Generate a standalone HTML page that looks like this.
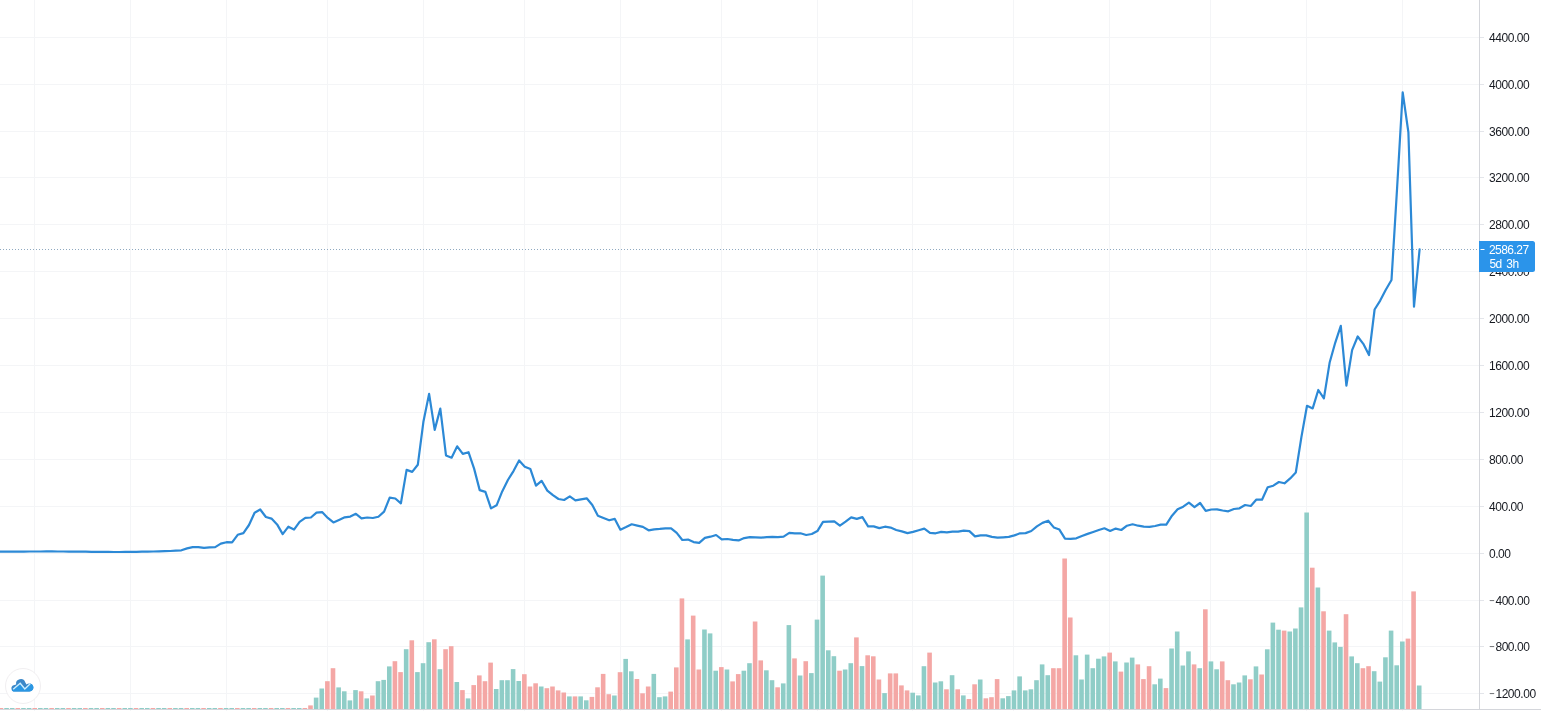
<!DOCTYPE html>
<html><head><meta charset="utf-8"><title>Chart</title>
<style>
html,body{margin:0;padding:0;background:#fff;overflow:hidden}
body{width:1541px;height:711px;position:relative;font-family:"Liberation Sans",sans-serif}
svg{position:absolute;left:0;top:0;display:block}
.ax{font-family:"Liberation Sans",sans-serif;font-size:12px;fill:#171a21;letter-spacing:-0.45px}
.pl{font-family:"Liberation Sans",sans-serif;font-size:12px;fill:#fff;letter-spacing:-0.55px}
</style></head><body>
<svg width="1541" height="711" viewBox="0 0 1541 711">
<rect width="1541" height="711" fill="#fff"/>
<g shape-rendering="crispEdges">
<line x1="0" y1="37.5" x2="1479" y2="37.5" stroke="#f4f5f7" stroke-width="1"/>
<line x1="1479" y1="37.5" x2="1484" y2="37.5" stroke="#e3e5ea" stroke-width="1"/>
<line x1="0" y1="84.5" x2="1479" y2="84.5" stroke="#f4f5f7" stroke-width="1"/>
<line x1="1479" y1="84.5" x2="1484" y2="84.5" stroke="#e3e5ea" stroke-width="1"/>
<line x1="0" y1="131.5" x2="1479" y2="131.5" stroke="#f4f5f7" stroke-width="1"/>
<line x1="1479" y1="131.5" x2="1484" y2="131.5" stroke="#e3e5ea" stroke-width="1"/>
<line x1="0" y1="177.5" x2="1479" y2="177.5" stroke="#f4f5f7" stroke-width="1"/>
<line x1="1479" y1="177.5" x2="1484" y2="177.5" stroke="#e3e5ea" stroke-width="1"/>
<line x1="0" y1="224.5" x2="1479" y2="224.5" stroke="#f4f5f7" stroke-width="1"/>
<line x1="1479" y1="224.5" x2="1484" y2="224.5" stroke="#e3e5ea" stroke-width="1"/>
<line x1="0" y1="271.5" x2="1479" y2="271.5" stroke="#f4f5f7" stroke-width="1"/>
<line x1="1479" y1="271.5" x2="1484" y2="271.5" stroke="#e3e5ea" stroke-width="1"/>
<line x1="0" y1="318.5" x2="1479" y2="318.5" stroke="#f4f5f7" stroke-width="1"/>
<line x1="1479" y1="318.5" x2="1484" y2="318.5" stroke="#e3e5ea" stroke-width="1"/>
<line x1="0" y1="365.5" x2="1479" y2="365.5" stroke="#f4f5f7" stroke-width="1"/>
<line x1="1479" y1="365.5" x2="1484" y2="365.5" stroke="#e3e5ea" stroke-width="1"/>
<line x1="0" y1="412.5" x2="1479" y2="412.5" stroke="#f4f5f7" stroke-width="1"/>
<line x1="1479" y1="412.5" x2="1484" y2="412.5" stroke="#e3e5ea" stroke-width="1"/>
<line x1="0" y1="459.5" x2="1479" y2="459.5" stroke="#f4f5f7" stroke-width="1"/>
<line x1="1479" y1="459.5" x2="1484" y2="459.5" stroke="#e3e5ea" stroke-width="1"/>
<line x1="0" y1="506.5" x2="1479" y2="506.5" stroke="#f4f5f7" stroke-width="1"/>
<line x1="1479" y1="506.5" x2="1484" y2="506.5" stroke="#e3e5ea" stroke-width="1"/>
<line x1="0" y1="553.5" x2="1479" y2="553.5" stroke="#f4f5f7" stroke-width="1"/>
<line x1="1479" y1="553.5" x2="1484" y2="553.5" stroke="#e3e5ea" stroke-width="1"/>
<line x1="0" y1="600.5" x2="1479" y2="600.5" stroke="#f4f5f7" stroke-width="1"/>
<line x1="1479" y1="600.5" x2="1484" y2="600.5" stroke="#e3e5ea" stroke-width="1"/>
<line x1="0" y1="646.5" x2="1479" y2="646.5" stroke="#f4f5f7" stroke-width="1"/>
<line x1="1479" y1="646.5" x2="1484" y2="646.5" stroke="#e3e5ea" stroke-width="1"/>
<line x1="0" y1="693.5" x2="1479" y2="693.5" stroke="#f4f5f7" stroke-width="1"/>
<line x1="1479" y1="693.5" x2="1484" y2="693.5" stroke="#e3e5ea" stroke-width="1"/>
<line x1="34.5" y1="0" x2="34.5" y2="711" stroke="#f4f5f7" stroke-width="1"/>
<line x1="130.5" y1="0" x2="130.5" y2="711" stroke="#f4f5f7" stroke-width="1"/>
<line x1="226.5" y1="0" x2="226.5" y2="711" stroke="#f4f5f7" stroke-width="1"/>
<line x1="327.5" y1="0" x2="327.5" y2="711" stroke="#f4f5f7" stroke-width="1"/>
<line x1="423.5" y1="0" x2="423.5" y2="711" stroke="#f4f5f7" stroke-width="1"/>
<line x1="524.5" y1="0" x2="524.5" y2="711" stroke="#f4f5f7" stroke-width="1"/>
<line x1="620.5" y1="0" x2="620.5" y2="711" stroke="#f4f5f7" stroke-width="1"/>
<line x1="721.5" y1="0" x2="721.5" y2="711" stroke="#f4f5f7" stroke-width="1"/>
<line x1="817.5" y1="0" x2="817.5" y2="711" stroke="#f4f5f7" stroke-width="1"/>
<line x1="912.5" y1="0" x2="912.5" y2="711" stroke="#f4f5f7" stroke-width="1"/>
<line x1="1013.5" y1="0" x2="1013.5" y2="711" stroke="#f4f5f7" stroke-width="1"/>
<line x1="1109.5" y1="0" x2="1109.5" y2="711" stroke="#f4f5f7" stroke-width="1"/>
<line x1="1210.5" y1="0" x2="1210.5" y2="711" stroke="#f4f5f7" stroke-width="1"/>
<line x1="1306.5" y1="0" x2="1306.5" y2="711" stroke="#f4f5f7" stroke-width="1"/>
<line x1="1402.5" y1="0" x2="1402.5" y2="711" stroke="#f4f5f7" stroke-width="1"/>
</g>
<g>
<rect x="-1.35" y="708" width="4.6" height="1" fill="#f4a7a5"/>
<rect x="4.28" y="708" width="4.6" height="1" fill="#8fcdc7"/>
<rect x="9.91" y="708" width="4.6" height="1" fill="#8fcdc7"/>
<rect x="15.53" y="708" width="4.6" height="1" fill="#f4a7a5"/>
<rect x="21.16" y="708" width="4.6" height="1" fill="#8fcdc7"/>
<rect x="26.79" y="708" width="4.6" height="1" fill="#8fcdc7"/>
<rect x="32.42" y="708" width="4.6" height="1" fill="#f4a7a5"/>
<rect x="38.05" y="708" width="4.6" height="1" fill="#8fcdc7"/>
<rect x="43.67" y="708" width="4.6" height="1" fill="#8fcdc7"/>
<rect x="49.30" y="708" width="4.6" height="1" fill="#f4a7a5"/>
<rect x="54.93" y="708" width="4.6" height="1" fill="#8fcdc7"/>
<rect x="60.56" y="708" width="4.6" height="1" fill="#8fcdc7"/>
<rect x="66.19" y="708" width="4.6" height="1" fill="#f4a7a5"/>
<rect x="71.81" y="708" width="4.6" height="1" fill="#8fcdc7"/>
<rect x="77.44" y="708" width="4.6" height="1" fill="#8fcdc7"/>
<rect x="83.07" y="708" width="4.6" height="1" fill="#f4a7a5"/>
<rect x="88.70" y="708" width="4.6" height="1" fill="#8fcdc7"/>
<rect x="94.33" y="708" width="4.6" height="1" fill="#8fcdc7"/>
<rect x="99.95" y="708" width="4.6" height="1" fill="#f4a7a5"/>
<rect x="105.58" y="708" width="4.6" height="1" fill="#8fcdc7"/>
<rect x="111.21" y="708" width="4.6" height="1" fill="#8fcdc7"/>
<rect x="116.84" y="708" width="4.6" height="1" fill="#f4a7a5"/>
<rect x="122.47" y="708" width="4.6" height="1" fill="#8fcdc7"/>
<rect x="128.09" y="708" width="4.6" height="1" fill="#8fcdc7"/>
<rect x="133.72" y="708" width="4.6" height="1" fill="#f4a7a5"/>
<rect x="139.35" y="708" width="4.6" height="1" fill="#8fcdc7"/>
<rect x="144.98" y="708" width="4.6" height="1" fill="#8fcdc7"/>
<rect x="150.61" y="708" width="4.6" height="1" fill="#f4a7a5"/>
<rect x="156.23" y="708" width="4.6" height="1" fill="#8fcdc7"/>
<rect x="161.86" y="708" width="4.6" height="1" fill="#8fcdc7"/>
<rect x="167.49" y="708" width="4.6" height="1" fill="#f4a7a5"/>
<rect x="173.12" y="708" width="4.6" height="1" fill="#8fcdc7"/>
<rect x="178.75" y="708" width="4.6" height="1" fill="#8fcdc7"/>
<rect x="184.37" y="708" width="4.6" height="1" fill="#f4a7a5"/>
<rect x="190.00" y="708" width="4.6" height="1" fill="#8fcdc7"/>
<rect x="195.63" y="708" width="4.6" height="1" fill="#8fcdc7"/>
<rect x="201.26" y="708" width="4.6" height="1" fill="#f4a7a5"/>
<rect x="206.89" y="708" width="4.6" height="1" fill="#8fcdc7"/>
<rect x="212.51" y="708" width="4.6" height="1" fill="#8fcdc7"/>
<rect x="218.14" y="708" width="4.6" height="1" fill="#f4a7a5"/>
<rect x="223.77" y="708" width="4.6" height="1" fill="#8fcdc7"/>
<rect x="229.40" y="708" width="4.6" height="1" fill="#8fcdc7"/>
<rect x="235.03" y="708" width="4.6" height="1" fill="#f4a7a5"/>
<rect x="240.65" y="708" width="4.6" height="1" fill="#8fcdc7"/>
<rect x="246.28" y="708" width="4.6" height="1" fill="#8fcdc7"/>
<rect x="251.91" y="708" width="4.6" height="1" fill="#f4a7a5"/>
<rect x="257.54" y="708" width="4.6" height="1" fill="#8fcdc7"/>
<rect x="263.17" y="708" width="4.6" height="1" fill="#8fcdc7"/>
<rect x="268.79" y="708" width="4.6" height="1" fill="#f4a7a5"/>
<rect x="274.42" y="708" width="4.6" height="1" fill="#8fcdc7"/>
<rect x="280.05" y="708" width="4.6" height="1" fill="#8fcdc7"/>
<rect x="285.68" y="708" width="4.6" height="1" fill="#f4a7a5"/>
<rect x="291.31" y="708" width="4.6" height="1" fill="#8fcdc7"/>
<rect x="296.93" y="708" width="4.6" height="1" fill="#8fcdc7"/>
<rect x="302.56" y="708" width="4.6" height="1" fill="#f4a7a5"/>
<rect x="308.19" y="705.4" width="4.6" height="3.6" fill="#f4a7a5"/>
<rect x="313.82" y="697.6" width="4.6" height="11.4" fill="#8fcdc7"/>
<rect x="319.45" y="688.5" width="4.6" height="20.5" fill="#8fcdc7"/>
<rect x="325.07" y="681.2" width="4.6" height="27.8" fill="#f4a7a5"/>
<rect x="330.70" y="668.2" width="4.6" height="40.8" fill="#f4a7a5"/>
<rect x="336.33" y="687.4" width="4.6" height="21.6" fill="#8fcdc7"/>
<rect x="341.96" y="691.3" width="4.6" height="17.7" fill="#8fcdc7"/>
<rect x="347.59" y="700.4" width="4.6" height="8.6" fill="#8fcdc7"/>
<rect x="353.21" y="690.1" width="4.6" height="18.9" fill="#8fcdc7"/>
<rect x="358.84" y="691.3" width="4.6" height="17.7" fill="#f4a7a5"/>
<rect x="364.47" y="698.4" width="4.6" height="10.6" fill="#8fcdc7"/>
<rect x="370.10" y="695.5" width="4.6" height="13.5" fill="#f4a7a5"/>
<rect x="375.73" y="681.2" width="4.6" height="27.8" fill="#8fcdc7"/>
<rect x="381.35" y="679.9" width="4.6" height="29.1" fill="#8fcdc7"/>
<rect x="386.98" y="666.4" width="4.6" height="42.6" fill="#8fcdc7"/>
<rect x="392.61" y="661.2" width="4.6" height="47.8" fill="#f4a7a5"/>
<rect x="398.24" y="672.1" width="4.6" height="36.9" fill="#f4a7a5"/>
<rect x="403.87" y="649.2" width="4.6" height="59.8" fill="#8fcdc7"/>
<rect x="409.49" y="640.3" width="4.6" height="68.7" fill="#f4a7a5"/>
<rect x="415.12" y="672.1" width="4.6" height="36.9" fill="#8fcdc7"/>
<rect x="420.75" y="663.2" width="4.6" height="45.8" fill="#8fcdc7"/>
<rect x="426.38" y="642.2" width="4.6" height="66.8" fill="#8fcdc7"/>
<rect x="432.01" y="639.3" width="4.6" height="69.7" fill="#f4a7a5"/>
<rect x="437.63" y="669.2" width="4.6" height="39.8" fill="#8fcdc7"/>
<rect x="443.26" y="649.2" width="4.6" height="59.8" fill="#f4a7a5"/>
<rect x="448.89" y="646.2" width="4.6" height="62.8" fill="#f4a7a5"/>
<rect x="454.52" y="682.0" width="4.6" height="27.0" fill="#8fcdc7"/>
<rect x="460.15" y="690.1" width="4.6" height="18.9" fill="#f4a7a5"/>
<rect x="465.77" y="698.4" width="4.6" height="10.6" fill="#8fcdc7"/>
<rect x="471.40" y="685.1" width="4.6" height="23.9" fill="#f4a7a5"/>
<rect x="477.03" y="675.4" width="4.6" height="33.6" fill="#f4a7a5"/>
<rect x="482.66" y="681.2" width="4.6" height="27.8" fill="#f4a7a5"/>
<rect x="488.29" y="662.6" width="4.6" height="46.4" fill="#f4a7a5"/>
<rect x="493.91" y="689.0" width="4.6" height="20.0" fill="#8fcdc7"/>
<rect x="499.54" y="680.2" width="4.6" height="28.8" fill="#8fcdc7"/>
<rect x="505.17" y="680.2" width="4.6" height="28.8" fill="#8fcdc7"/>
<rect x="510.80" y="669.1" width="4.6" height="39.9" fill="#8fcdc7"/>
<rect x="516.43" y="681.0" width="4.6" height="28.0" fill="#8fcdc7"/>
<rect x="522.05" y="674.2" width="4.6" height="34.8" fill="#f4a7a5"/>
<rect x="527.68" y="686.5" width="4.6" height="22.5" fill="#f4a7a5"/>
<rect x="533.31" y="683.3" width="4.6" height="25.7" fill="#f4a7a5"/>
<rect x="538.94" y="686.5" width="4.6" height="22.5" fill="#8fcdc7"/>
<rect x="544.57" y="688.2" width="4.6" height="20.8" fill="#f4a7a5"/>
<rect x="550.19" y="686.5" width="4.6" height="22.5" fill="#f4a7a5"/>
<rect x="555.82" y="690.4" width="4.6" height="18.6" fill="#f4a7a5"/>
<rect x="561.45" y="692.5" width="4.6" height="16.5" fill="#f4a7a5"/>
<rect x="567.08" y="696.4" width="4.6" height="12.6" fill="#8fcdc7"/>
<rect x="572.71" y="696.4" width="4.6" height="12.6" fill="#f4a7a5"/>
<rect x="578.33" y="696.4" width="4.6" height="12.6" fill="#8fcdc7"/>
<rect x="583.96" y="700.3" width="4.6" height="8.7" fill="#8fcdc7"/>
<rect x="589.59" y="696.9" width="4.6" height="12.1" fill="#f4a7a5"/>
<rect x="595.22" y="687.3" width="4.6" height="21.7" fill="#f4a7a5"/>
<rect x="600.85" y="673.9" width="4.6" height="35.1" fill="#f4a7a5"/>
<rect x="606.47" y="694.2" width="4.6" height="14.8" fill="#f4a7a5"/>
<rect x="612.10" y="695.5" width="4.6" height="13.5" fill="#8fcdc7"/>
<rect x="617.73" y="672.2" width="4.6" height="36.8" fill="#f4a7a5"/>
<rect x="623.36" y="658.9" width="4.6" height="50.1" fill="#8fcdc7"/>
<rect x="628.99" y="671.3" width="4.6" height="37.7" fill="#8fcdc7"/>
<rect x="634.61" y="679.0" width="4.6" height="30.0" fill="#f4a7a5"/>
<rect x="640.24" y="693.3" width="4.6" height="15.7" fill="#f4a7a5"/>
<rect x="645.87" y="686.5" width="4.6" height="22.5" fill="#f4a7a5"/>
<rect x="651.50" y="673.9" width="4.6" height="35.1" fill="#8fcdc7"/>
<rect x="657.13" y="697.2" width="4.6" height="11.8" fill="#8fcdc7"/>
<rect x="662.75" y="696.4" width="4.6" height="12.6" fill="#8fcdc7"/>
<rect x="668.38" y="691.6" width="4.6" height="17.4" fill="#f4a7a5"/>
<rect x="674.01" y="667.4" width="4.6" height="41.6" fill="#f4a7a5"/>
<rect x="679.64" y="598.4" width="4.6" height="110.6" fill="#f4a7a5"/>
<rect x="685.27" y="639.4" width="4.6" height="69.6" fill="#8fcdc7"/>
<rect x="690.89" y="615.6" width="4.6" height="93.4" fill="#f4a7a5"/>
<rect x="696.52" y="669.5" width="4.6" height="39.5" fill="#f4a7a5"/>
<rect x="702.15" y="629.5" width="4.6" height="79.5" fill="#8fcdc7"/>
<rect x="707.78" y="633.4" width="4.6" height="75.6" fill="#8fcdc7"/>
<rect x="713.41" y="670.7" width="4.6" height="38.3" fill="#8fcdc7"/>
<rect x="719.03" y="667.1" width="4.6" height="41.9" fill="#f4a7a5"/>
<rect x="724.66" y="669.5" width="4.6" height="39.5" fill="#8fcdc7"/>
<rect x="730.29" y="681.4" width="4.6" height="27.6" fill="#f4a7a5"/>
<rect x="735.92" y="674.1" width="4.6" height="34.9" fill="#f4a7a5"/>
<rect x="741.55" y="670.7" width="4.6" height="38.3" fill="#8fcdc7"/>
<rect x="747.17" y="663.2" width="4.6" height="45.8" fill="#8fcdc7"/>
<rect x="752.80" y="621.5" width="4.6" height="87.5" fill="#f4a7a5"/>
<rect x="758.43" y="660.4" width="4.6" height="48.6" fill="#f4a7a5"/>
<rect x="764.06" y="670.3" width="4.6" height="38.7" fill="#8fcdc7"/>
<rect x="769.69" y="680.2" width="4.6" height="28.8" fill="#8fcdc7"/>
<rect x="775.31" y="687.3" width="4.6" height="21.7" fill="#f4a7a5"/>
<rect x="780.94" y="683.4" width="4.6" height="25.6" fill="#8fcdc7"/>
<rect x="786.57" y="625.1" width="4.6" height="83.9" fill="#8fcdc7"/>
<rect x="792.20" y="658.4" width="4.6" height="50.6" fill="#f4a7a5"/>
<rect x="797.83" y="675.5" width="4.6" height="33.5" fill="#8fcdc7"/>
<rect x="803.45" y="661.2" width="4.6" height="47.8" fill="#f4a7a5"/>
<rect x="809.08" y="673.1" width="4.6" height="35.9" fill="#8fcdc7"/>
<rect x="814.71" y="619.6" width="4.6" height="89.4" fill="#8fcdc7"/>
<rect x="820.34" y="575.6" width="4.6" height="133.4" fill="#8fcdc7"/>
<rect x="825.97" y="650.3" width="4.6" height="58.7" fill="#8fcdc7"/>
<rect x="831.59" y="656.2" width="4.6" height="52.8" fill="#8fcdc7"/>
<rect x="837.22" y="670.7" width="4.6" height="38.3" fill="#f4a7a5"/>
<rect x="842.85" y="669.5" width="4.6" height="39.5" fill="#8fcdc7"/>
<rect x="848.48" y="663.2" width="4.6" height="45.8" fill="#8fcdc7"/>
<rect x="854.11" y="637.4" width="4.6" height="71.6" fill="#f4a7a5"/>
<rect x="859.73" y="666.1" width="4.6" height="42.9" fill="#8fcdc7"/>
<rect x="865.36" y="655.3" width="4.6" height="53.7" fill="#f4a7a5"/>
<rect x="870.99" y="656.3" width="4.6" height="52.7" fill="#f4a7a5"/>
<rect x="876.62" y="679.5" width="4.6" height="29.5" fill="#f4a7a5"/>
<rect x="882.25" y="693.1" width="4.6" height="15.9" fill="#8fcdc7"/>
<rect x="887.87" y="673.4" width="4.6" height="35.6" fill="#f4a7a5"/>
<rect x="893.50" y="673.4" width="4.6" height="35.6" fill="#f4a7a5"/>
<rect x="899.13" y="685.4" width="4.6" height="23.6" fill="#f4a7a5"/>
<rect x="904.76" y="690.4" width="4.6" height="18.6" fill="#f4a7a5"/>
<rect x="910.39" y="692.7" width="4.6" height="16.3" fill="#8fcdc7"/>
<rect x="916.01" y="695.4" width="4.6" height="13.6" fill="#8fcdc7"/>
<rect x="921.64" y="666.2" width="4.6" height="42.8" fill="#8fcdc7"/>
<rect x="927.27" y="652.6" width="4.6" height="56.4" fill="#f4a7a5"/>
<rect x="932.90" y="682.5" width="4.6" height="26.5" fill="#8fcdc7"/>
<rect x="938.53" y="681.3" width="4.6" height="27.7" fill="#8fcdc7"/>
<rect x="944.15" y="689.3" width="4.6" height="19.7" fill="#f4a7a5"/>
<rect x="949.78" y="675.2" width="4.6" height="33.8" fill="#8fcdc7"/>
<rect x="955.41" y="689.3" width="4.6" height="19.7" fill="#f4a7a5"/>
<rect x="961.04" y="695.4" width="4.6" height="13.6" fill="#8fcdc7"/>
<rect x="966.67" y="699.0" width="4.6" height="10.0" fill="#f4a7a5"/>
<rect x="972.29" y="684.3" width="4.6" height="24.7" fill="#f4a7a5"/>
<rect x="977.92" y="679.5" width="4.6" height="29.5" fill="#8fcdc7"/>
<rect x="983.55" y="698.3" width="4.6" height="10.7" fill="#f4a7a5"/>
<rect x="989.18" y="697.2" width="4.6" height="11.8" fill="#f4a7a5"/>
<rect x="994.81" y="679.1" width="4.6" height="29.9" fill="#f4a7a5"/>
<rect x="1000.43" y="698.3" width="4.6" height="10.7" fill="#8fcdc7"/>
<rect x="1006.06" y="696.1" width="4.6" height="12.9" fill="#8fcdc7"/>
<rect x="1011.69" y="690.4" width="4.6" height="18.6" fill="#8fcdc7"/>
<rect x="1017.32" y="676.4" width="4.6" height="32.6" fill="#8fcdc7"/>
<rect x="1022.95" y="690.4" width="4.6" height="18.6" fill="#8fcdc7"/>
<rect x="1028.57" y="689.3" width="4.6" height="19.7" fill="#8fcdc7"/>
<rect x="1034.20" y="680.2" width="4.6" height="28.8" fill="#8fcdc7"/>
<rect x="1039.83" y="664.4" width="4.6" height="44.6" fill="#8fcdc7"/>
<rect x="1045.46" y="675.2" width="4.6" height="33.8" fill="#8fcdc7"/>
<rect x="1051.09" y="668.2" width="4.6" height="40.8" fill="#f4a7a5"/>
<rect x="1056.71" y="668.2" width="4.6" height="40.8" fill="#f4a7a5"/>
<rect x="1062.34" y="558.5" width="4.6" height="150.5" fill="#f4a7a5"/>
<rect x="1067.97" y="617.5" width="4.6" height="91.5" fill="#f4a7a5"/>
<rect x="1073.60" y="655.3" width="4.6" height="53.7" fill="#8fcdc7"/>
<rect x="1079.23" y="679.5" width="4.6" height="29.5" fill="#8fcdc7"/>
<rect x="1084.85" y="654.6" width="4.6" height="54.4" fill="#8fcdc7"/>
<rect x="1090.48" y="668.2" width="4.6" height="40.8" fill="#8fcdc7"/>
<rect x="1096.11" y="658.7" width="4.6" height="50.3" fill="#8fcdc7"/>
<rect x="1101.74" y="656.4" width="4.6" height="52.6" fill="#8fcdc7"/>
<rect x="1107.37" y="652.6" width="4.6" height="56.4" fill="#f4a7a5"/>
<rect x="1112.99" y="661.4" width="4.6" height="47.6" fill="#8fcdc7"/>
<rect x="1118.62" y="671.6" width="4.6" height="37.4" fill="#f4a7a5"/>
<rect x="1124.25" y="662.5" width="4.6" height="46.5" fill="#8fcdc7"/>
<rect x="1129.88" y="657.6" width="4.6" height="51.4" fill="#8fcdc7"/>
<rect x="1135.51" y="664.4" width="4.6" height="44.6" fill="#f4a7a5"/>
<rect x="1141.13" y="679.1" width="4.6" height="29.9" fill="#f4a7a5"/>
<rect x="1146.76" y="666.2" width="4.6" height="42.8" fill="#f4a7a5"/>
<rect x="1152.39" y="684.3" width="4.6" height="24.7" fill="#8fcdc7"/>
<rect x="1158.02" y="678.6" width="4.6" height="30.4" fill="#8fcdc7"/>
<rect x="1163.65" y="688.1" width="4.6" height="20.9" fill="#f4a7a5"/>
<rect x="1169.27" y="648.5" width="4.6" height="60.5" fill="#8fcdc7"/>
<rect x="1174.90" y="631.5" width="4.6" height="77.5" fill="#8fcdc7"/>
<rect x="1180.53" y="665.5" width="4.6" height="43.5" fill="#8fcdc7"/>
<rect x="1186.16" y="651.4" width="4.6" height="57.6" fill="#8fcdc7"/>
<rect x="1191.79" y="664.4" width="4.6" height="44.6" fill="#f4a7a5"/>
<rect x="1197.41" y="668.2" width="4.6" height="40.8" fill="#8fcdc7"/>
<rect x="1203.04" y="609.3" width="4.6" height="99.7" fill="#f4a7a5"/>
<rect x="1208.67" y="661.4" width="4.6" height="47.6" fill="#8fcdc7"/>
<rect x="1214.30" y="669.3" width="4.6" height="39.7" fill="#8fcdc7"/>
<rect x="1219.93" y="661.4" width="4.6" height="47.6" fill="#f4a7a5"/>
<rect x="1225.55" y="680.2" width="4.6" height="28.8" fill="#f4a7a5"/>
<rect x="1231.18" y="684.3" width="4.6" height="24.7" fill="#8fcdc7"/>
<rect x="1236.81" y="682.5" width="4.6" height="26.5" fill="#8fcdc7"/>
<rect x="1242.44" y="675.4" width="4.6" height="33.6" fill="#8fcdc7"/>
<rect x="1248.07" y="679.3" width="4.6" height="29.7" fill="#f4a7a5"/>
<rect x="1253.69" y="666.4" width="4.6" height="42.6" fill="#8fcdc7"/>
<rect x="1259.32" y="674.5" width="4.6" height="34.5" fill="#f4a7a5"/>
<rect x="1264.95" y="649.3" width="4.6" height="59.7" fill="#8fcdc7"/>
<rect x="1270.58" y="622.6" width="4.6" height="86.4" fill="#8fcdc7"/>
<rect x="1276.21" y="629.7" width="4.6" height="79.3" fill="#8fcdc7"/>
<rect x="1281.83" y="630.6" width="4.6" height="78.4" fill="#f4a7a5"/>
<rect x="1287.46" y="631.5" width="4.6" height="77.5" fill="#8fcdc7"/>
<rect x="1293.09" y="628.5" width="4.6" height="80.5" fill="#8fcdc7"/>
<rect x="1298.72" y="607.4" width="4.6" height="101.6" fill="#8fcdc7"/>
<rect x="1304.35" y="512.5" width="4.6" height="196.5" fill="#8fcdc7"/>
<rect x="1309.97" y="567.7" width="4.6" height="141.3" fill="#f4a7a5"/>
<rect x="1315.60" y="587.5" width="4.6" height="121.5" fill="#8fcdc7"/>
<rect x="1321.23" y="611.3" width="4.6" height="97.7" fill="#f4a7a5"/>
<rect x="1326.86" y="630.6" width="4.6" height="78.4" fill="#8fcdc7"/>
<rect x="1332.49" y="642.4" width="4.6" height="66.6" fill="#8fcdc7"/>
<rect x="1338.11" y="646.9" width="4.6" height="62.1" fill="#8fcdc7"/>
<rect x="1343.74" y="614.2" width="4.6" height="94.8" fill="#f4a7a5"/>
<rect x="1349.37" y="656.4" width="4.6" height="52.6" fill="#8fcdc7"/>
<rect x="1355.00" y="663.2" width="4.6" height="45.8" fill="#8fcdc7"/>
<rect x="1360.63" y="668.2" width="4.6" height="40.8" fill="#f4a7a5"/>
<rect x="1366.25" y="666.2" width="4.6" height="42.8" fill="#f4a7a5"/>
<rect x="1371.88" y="671.2" width="4.6" height="37.8" fill="#8fcdc7"/>
<rect x="1377.51" y="681.6" width="4.6" height="27.4" fill="#8fcdc7"/>
<rect x="1383.14" y="657.3" width="4.6" height="51.7" fill="#8fcdc7"/>
<rect x="1388.77" y="630.6" width="4.6" height="78.4" fill="#8fcdc7"/>
<rect x="1394.39" y="665.3" width="4.6" height="43.7" fill="#8fcdc7"/>
<rect x="1400.02" y="641.5" width="4.6" height="67.5" fill="#8fcdc7"/>
<rect x="1405.65" y="638.6" width="4.6" height="70.4" fill="#f4a7a5"/>
<rect x="1411.28" y="591.4" width="4.6" height="117.6" fill="#f4a7a5"/>
<rect x="1416.91" y="685.5" width="4.6" height="23.5" fill="#8fcdc7"/>
</g>
<line x1="0" y1="249.5" x2="1479" y2="249.5" stroke="#8fa9c0" stroke-width="1" stroke-dasharray="1 2" shape-rendering="crispEdges"/>
<polyline points="-2.0,551.7 7.0,551.7 12.6,551.6 18.2,551.6 23.9,551.6 29.5,551.5 35.1,551.5 40.7,551.5 46.4,551.4 52.0,551.4 57.6,551.5 63.3,551.5 68.9,551.6 74.5,551.6 80.1,551.7 85.8,551.7 91.4,551.8 97.0,551.8 102.7,551.9 108.3,551.9 113.9,552.0 119.5,552.0 125.2,551.9 130.8,551.8 136.4,551.8 142.0,551.7 147.7,551.6 153.3,551.5 158.9,551.3 164.6,551.2 170.2,551.0 175.8,550.6 181.4,550.3 187.1,548.4 192.7,547.1 198.3,547.1 204.0,547.9 209.6,547.4 215.2,547.1 220.8,543.6 226.5,542.2 232.1,542.4 237.7,534.8 243.4,533.1 249.0,525.0 254.6,512.7 260.2,509.5 265.9,517.0 271.5,518.6 277.1,524.4 282.7,534.1 288.4,526.7 294.0,529.6 299.6,521.8 305.3,517.9 310.9,517.5 316.5,512.7 322.1,512.1 327.8,517.9 333.4,522.4 339.0,519.9 344.7,517.3 350.3,516.6 355.9,513.8 361.5,518.3 367.2,517.5 372.8,518.0 378.4,516.7 384.1,511.6 389.7,497.7 395.3,498.5 400.9,503.3 406.6,469.9 412.2,471.9 417.8,464.8 423.4,421.8 429.1,393.9 434.7,429.9 440.3,408.6 446.0,455.4 451.6,457.7 457.2,446.3 462.8,453.9 468.5,452.2 474.1,468.6 479.7,490.1 485.4,491.9 491.0,508.4 496.6,505.3 502.2,491.4 507.9,480.0 513.5,471.1 519.1,460.5 524.8,466.8 530.4,469.1 536.0,485.6 541.6,480.8 547.3,490.6 552.9,495.2 558.5,499.0 564.1,500.0 569.8,496.4 575.4,500.3 581.0,499.3 586.7,498.3 592.3,505.0 597.9,515.7 603.5,518.0 609.2,520.3 614.8,518.9 620.4,529.7 626.1,527.1 631.7,524.3 637.3,525.6 642.9,526.9 648.6,530.3 654.2,529.3 659.8,528.9 665.5,528.3 671.1,528.3 676.7,532.9 682.3,540.0 688.0,539.6 693.6,542.1 699.2,542.9 704.9,537.9 710.5,536.7 716.1,535.0 721.7,539.3 727.4,539.0 733.0,539.8 738.6,540.4 744.2,538.1 749.9,537.1 755.5,537.3 761.1,537.6 766.8,537.2 772.4,536.9 778.0,537.1 783.6,536.6 789.3,532.9 794.9,533.4 800.5,533.3 806.2,535.0 811.8,534.0 817.4,531.1 823.0,521.9 828.7,521.7 834.3,521.4 839.9,525.7 845.6,521.7 851.2,517.4 856.8,518.9 862.4,517.1 868.1,526.4 873.7,526.4 879.3,528.1 884.9,526.7 890.6,527.6 896.2,530.0 901.8,531.4 907.5,533.1 913.1,531.9 918.7,530.3 924.3,528.6 930.0,532.9 935.6,533.3 941.2,531.9 946.9,532.3 952.5,531.7 958.1,531.7 963.7,530.7 969.4,531.1 975.0,536.4 980.6,535.3 986.2,535.4 991.9,536.9 997.5,537.6 1003.1,537.3 1008.8,536.9 1014.4,535.4 1020.0,533.3 1025.6,533.1 1031.3,531.0 1036.9,526.4 1042.5,522.9 1048.2,520.7 1053.8,527.4 1059.4,529.6 1065.0,538.6 1070.7,538.9 1076.3,538.3 1081.9,536.0 1087.6,533.9 1093.2,532.0 1098.8,530.0 1104.4,528.3 1110.1,531.0 1115.7,528.6 1121.3,530.0 1127.0,525.7 1132.6,524.3 1138.2,525.7 1143.8,526.6 1149.5,526.9 1155.1,526.0 1160.7,524.6 1166.3,524.7 1172.0,515.7 1177.6,509.3 1183.2,506.7 1188.9,502.6 1194.5,507.1 1200.1,503.0 1205.7,510.9 1211.4,509.5 1217.0,509.3 1222.6,510.5 1228.3,511.3 1233.9,509.0 1239.5,508.3 1245.1,505.0 1250.8,506.0 1256.4,499.5 1262.0,499.7 1267.7,487.3 1273.3,485.7 1278.9,482.0 1284.5,483.3 1290.2,478.4 1295.8,472.5 1301.4,437.1 1307.0,405.8 1312.7,408.4 1318.3,390.0 1323.9,398.3 1329.6,362.8 1335.2,342.8 1340.8,325.9 1346.4,385.6 1352.1,350.2 1357.7,336.5 1363.3,343.8 1369.0,355.0 1374.6,309.5 1380.2,300.6 1385.8,289.8 1391.5,280.0 1397.1,188.0 1402.7,92.3 1408.4,132.3 1414.0,306.6 1419.6,249.4" fill="none" stroke="#2c89d6" stroke-width="2.2" stroke-linejoin="round" stroke-linecap="round"/>
<line x1="1479.5" y1="0" x2="1479.5" y2="710" stroke="#d4d6db" stroke-width="1" shape-rendering="crispEdges"/>
<line x1="0" y1="709.5" x2="1541" y2="709.5" stroke="#d4d6db" stroke-width="1" shape-rendering="crispEdges"/>
<g>
<text x="1489" y="41.6" class="ax">4400.00</text>
<text x="1489" y="88.6" class="ax">4000.00</text>
<text x="1489" y="135.6" class="ax">3600.00</text>
<text x="1489" y="181.6" class="ax">3200.00</text>
<text x="1489" y="228.6" class="ax">2800.00</text>
<text x="1489" y="275.6" class="ax">2400.00</text>
<text x="1489" y="322.6" class="ax">2000.00</text>
<text x="1489" y="369.6" class="ax">1600.00</text>
<text x="1489" y="416.6" class="ax">1200.00</text>
<text x="1489" y="463.6" class="ax">800.00</text>
<text x="1489" y="510.6" class="ax">400.00</text>
<text x="1489" y="557.6" class="ax">0.00</text>
<text x="1489.3" y="604.6" class="ax"><tspan font-size="9.2" dy="-1">−</tspan><tspan dy="1" dx="1.2">400.00</tspan></text>
<text x="1489.3" y="650.6" class="ax"><tspan font-size="9.2" dy="-1">−</tspan><tspan dy="1" dx="1.2">800.00</tspan></text>
<text x="1489.3" y="697.6" class="ax"><tspan font-size="9.2" dy="-1">−</tspan><tspan dy="1" dx="1.2">1200.00</tspan></text>
</g>
<path d="M1479 241h53.5a2.5 2.5 0 0 1 2.500 2.500v26a2.500 2.500 0 0 1 -2.500 2.500h-53.500z" fill="#2b94ea"/>
<line x1="1480.500" y1="249.500" x2="1484.500" y2="249.500" stroke="#fff" stroke-width="1"/>
<text x="1489" y="253.800" class="pl">2586.27</text>
<text x="1489.500" y="267.800" class="pl" style="word-spacing:1.800px">5d 3h</text>
<g>
<circle cx="23" cy="686" r="17.5" fill="#fff" stroke="#f1eff1" stroke-width="1"/>
<clipPath id="cl"><path d="M14.8 691.6A3.3 3.3 0 0 1 13.6 685.2L16.1 684.5A4.7 4.7 0 0 1 25.2 682.3L26.5 684.5A4.1 4.1 0 1 1 29.4 691.6Z"/></clipPath>
<path d="M14.8 691.6A3.3 3.3 0 0 1 13.6 685.2L16.1 684.5A4.7 4.7 0 0 1 25.2 682.3L26.5 684.5A4.1 4.1 0 1 1 29.4 691.6Z" fill="#3b88c9"/>
<polygon points="9,692.7 13.2,689.2 20.2,683.3 24.8,688.9 30.2,683.8 36,678.500 36,693 9,693" fill="#2a97e3" clip-path="url(#cl)"/>
<polyline points="13.2,689.2 20.2,683.3 24.8,688.9 30.2,683.8" fill="none" stroke="#cdeeff" stroke-width="1.4" stroke-linejoin="miter"/>
</g>
</svg>
</body></html>
